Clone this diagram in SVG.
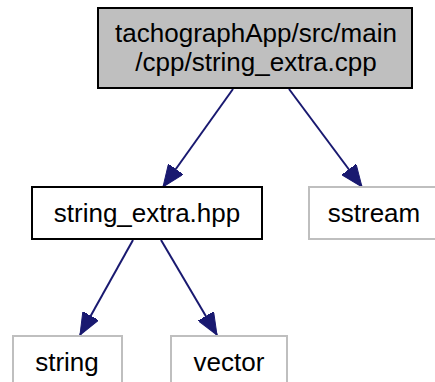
<svg xmlns="http://www.w3.org/2000/svg" width="435" height="382" viewBox="0 0 435 382">
<style>
text{font-family:"Liberation Sans",Arial,Helvetica,sans-serif;font-size:26px;fill:#000;text-anchor:middle}
.main rect{fill:#bfbfbf;stroke:#000;stroke-width:2}
.loc rect{fill:#fff;stroke:#000;stroke-width:2}
.ext rect{fill:#fff;stroke:#bfbfbf;stroke-width:2}
.edge{stroke:#191970;stroke-width:2;fill:none;marker-end:url(#arr)}
</style>
<defs>
<marker id="arr" viewBox="0 0 22 18" refX="22" refY="9" markerWidth="22" markerHeight="18" markerUnits="userSpaceOnUse" orient="auto">
<path d="M0,0 L22,9 L0,18 z" fill="#191970" stroke="#191970" stroke-width="1"/>
</marker>
</defs>
<rect width="435" height="382" fill="#fff"/>
<g id="edges">
<line class="edge" x1="233" y1="89" x2="163" y2="187"/>
<line class="edge" x1="289" y1="89" x2="362" y2="187"/>
<line class="edge" x1="133" y1="240" x2="80" y2="335"/>
<line class="edge" x1="161" y1="240" x2="217" y2="335"/>
</g>
<g id="node_main" class="main">
<rect x="98" y="8" width="314" height="80"/>
<text x="256" y="42">tachographApp/src/main</text>
<text x="256" y="71">/cpp/string_extra.cpp</text>
</g>
<g id="node_hpp" class="loc">
<rect x="32" y="187" width="230" height="52"/>
<text x="147" y="222">string_extra.hpp</text>
</g>
<g id="node_sstream" class="ext">
<rect x="309" y="187" width="130" height="52"/>
<text x="374" y="222">sstream</text>
</g>
<g id="node_string" class="ext">
<rect x="13" y="336" width="109" height="52"/>
<text x="67" y="371">string</text>
</g>
<g id="node_vector" class="ext">
<rect x="171" y="336" width="116" height="52"/>
<text x="229" y="371">vector</text>
</g>
</svg>
